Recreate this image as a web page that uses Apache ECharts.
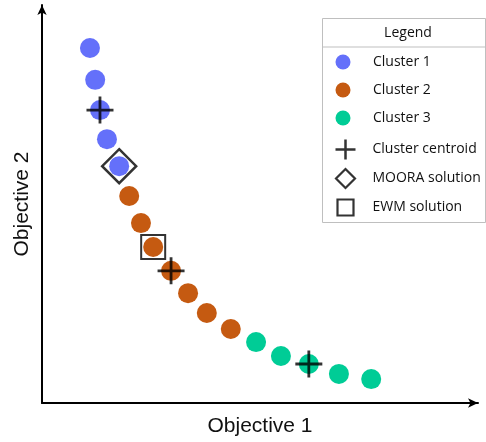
<!DOCTYPE html>
<html>
<head>
<meta charset="utf-8">
<script src="https://cdn.jsdelivr.net/npm/echarts@6/dist/echarts.min.js"></script>
<style>
  html, body { margin: 0; padding: 0; background: #fff; }
  #chart { width: 486px; height: 442px; }
</style>
</head>
<body>
<div id="chart"></div>
<script>
// Pareto front points, grouped by cluster: [objective 1, objective 2]
const cluster1 = [[1.10, 8.92], [1.22, 8.12], [1.33, 7.36], [1.49, 6.63], [1.77, 5.95]];
const cluster2 = [[2.00, 5.20], [2.27, 4.52], [2.55, 3.92], [2.96, 3.32], [3.35, 2.76], [3.78, 2.26], [4.33, 1.86]];
const cluster3 = [[4.91, 1.53], [5.48, 1.18], [6.12, 0.98], [6.81, 0.73], [7.55, 0.60]];
const centroids = [[1.33, 7.36], [2.96, 3.32], [6.12, 0.98]];
const mooraSolution = [[1.77, 5.95]];
const ewmSolution = [[2.55, 3.92]];

const seriesNames = ['Cluster 1', 'Cluster 2', 'Cluster 3', 'Cluster centroid', 'MOORA solution', 'EWM solution'];
const colors = { c1: '#6470FA', c2: '#C55A11', c3: '#00CC96' };

const crossPath = 'path://M0,-10L0,10M-10,0L10,0';

// one legend entry per row, each with its own icon size
const legendRows = [
  { name: seriesNames[0], icon: 'circle', size: 15, top: 62, textPad: 17.5, stroke: 0 },
  { name: seriesNames[1], icon: 'circle', size: 15, top: 90, textPad: 17.5, stroke: 0 },
  { name: seriesNames[2], icon: 'circle', size: 15, top: 118, textPad: 17.5, stroke: 0 },
  { name: seriesNames[3], icon: crossPath, size: 20, top: 147, textPad: 12, stroke: 2.5 },
  { name: seriesNames[4], icon: 'diamond', size: 19, top: 176, textPad: 12.5, stroke: 2.2 },
  { name: seriesNames[5], icon: 'rect', size: 16, top: 205, textPad: 14, stroke: 2.2 }
];
const legendCenterX = 343;

const legends = legendRows.map(r => {
  const item = { name: r.name, icon: r.icon };
  if (r.stroke) {
    item.itemStyle = { color: 'none', borderColor: '#000', borderWidth: r.stroke };
  }
  return {
    orient: 'horizontal',
    left: legendCenterX - r.size / 2,
    top: r.top - r.size / 2,
    padding: 0,
    itemWidth: r.size,
    itemHeight: r.size,
    selectedMode: false,
    textStyle: {
      fontFamily: 'Open Sans', fontSize: 14, color: '#111',
      padding: [0, 0, 0, r.textPad]
    },
    data: [item]
  };
});

const chart = echarts.init(document.getElementById('chart'), null, { renderer: 'canvas' });

chart.setOption({
  animation: false,
  backgroundColor: '#ffffff',
  grid: { left: 42, right: 8, top: 5, bottom: 39, containLabel: false, outerBoundsMode: 'none' },
  xAxis: {
    type: 'value', min: 0, max: 10,
    name: 'Objective 1', nameLocation: 'middle', nameGap: 13,
    nameTextStyle: { fontFamily: 'Liberation Sans', fontSize: 21, color: '#111', verticalAlign: 'top' },
    axisLine: { show: true, symbol: ['none', 'arrow'], symbolSize: [7, 10], lineStyle: { color: '#000', width: 2 } },
    axisTick: { show: false }, axisLabel: { show: false }, splitLine: { show: false }
  },
  yAxis: {
    type: 'value', min: 0, max: 10,
    name: 'Objective 2', nameLocation: 'middle', nameGap: 9,
    nameTextStyle: { fontFamily: 'Liberation Sans', fontSize: 21, color: '#111', verticalAlign: 'bottom' },
    axisLine: { show: true, symbol: ['none', 'arrow'], symbolSize: [7, 10], lineStyle: { color: '#000', width: 2 } },
    axisTick: { show: false }, axisLabel: { show: false }, splitLine: { show: false }
  },
  legend: legends,
  graphic: [
    { type: 'rect', left: 322, top: 18, z: -1,
      shape: { width: 163, height: 204 },
      style: { fill: '#fff', stroke: '#bfbfbf', lineWidth: 1 } },
    { type: 'line', shape: { x1: 322, y1: 47, x2: 485, y2: 47 }, style: { stroke: '#bfbfbf', lineWidth: 1 } },
    { type: 'text', x: 408, y: 33,
      style: { text: 'Legend', fontFamily: 'Open Sans', fontSize: 14, fill: '#111', align: 'center', verticalAlign: 'middle' } }
  ],
  series: [
    { name: seriesNames[0], type: 'scatter', data: cluster1, symbol: 'circle', symbolSize: 20, z: 2,
      itemStyle: { color: colors.c1, opacity: 1 } },
    { name: seriesNames[1], type: 'scatter', data: cluster2, symbol: 'circle', symbolSize: 20, z: 2,
      itemStyle: { color: colors.c2, opacity: 1 } },
    { name: seriesNames[2], type: 'scatter', data: cluster3, symbol: 'circle', symbolSize: 20, z: 2,
      itemStyle: { color: colors.c3, opacity: 1 } },
    { name: seriesNames[3], type: 'scatter', data: centroids, symbol: crossPath, symbolSize: 27, z: 4,
      itemStyle: { color: 'none', borderColor: '#000', borderWidth: 2.8 } },
    { name: seriesNames[4], type: 'scatter', data: mooraSolution, symbol: 'diamond', symbolSize: 34, z: 3,
      itemStyle: { color: 'none', borderColor: '#000', borderWidth: 2.5 } },
    { name: seriesNames[5], type: 'scatter', data: ewmSolution, symbol: 'rect', symbolSize: 24, z: 3,
      itemStyle: { color: 'none', borderColor: '#000', borderWidth: 2 } }
  ]
});
</script>
</body>
</html>
